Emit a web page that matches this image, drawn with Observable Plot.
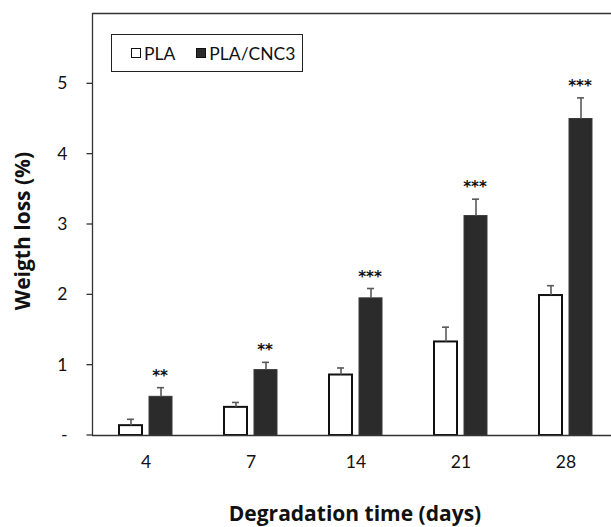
<!DOCTYPE html>
<html><head><meta charset="utf-8">
<script src="https://cdn.jsdelivr.net/npm/d3@7"></script>
<script src="https://cdn.jsdelivr.net/npm/@observablehq/plot@0.6"></script>
<style>
html,body{margin:0;background:#fff;overflow:hidden;}
#wrap{position:relative;width:611px;height:527px;font-family:Lato,"Open Sans",sans-serif;overflow:hidden;color:#111;}
#legend{position:absolute;left:111px;top:34px;width:190px;height:36px;border:1.5px solid #222;box-sizing:content-box;display:flex;align-items:center;font-size:17.5px;}
.item{display:flex;align-items:center;}
.sw{width:8px;height:8px;border:1px solid #111;margin-right:3px;}
</style></head><body><div id="wrap"></div>
<script>
const days = ["4", "7", "14", "21", "28"];
const series = ["PLA", "PLA/CNC3"];
const plaMean = [0.14, 0.40, 0.86, 1.33, 1.99];
const plaErr  = [0.09, 0.07, 0.10, 0.21, 0.14];
const cncMean = [0.55, 0.93, 1.95, 3.12, 4.50];
const cncErr  = [0.13, 0.11, 0.14, 0.24, 0.30];
const signif  = ["**", "**", "***", "***", "***"];
const yTicks = [0, 1, 2, 3, 4, 5];
const yTickLabels = ["-", "1", "2", "3", "4", "5"];
const xTitle = "Degradation time (days)";
const yTitle = "Weigth loss (%)";
const colors = {"PLA": "#ffffff", "PLA/CNC3": "#2b2b2b"};

const pla = days.map((d, i) => ({day: d, mean: plaMean[i], top: plaMean[i] + plaErr[i]}));
const cnc = days.map((d, i) => ({day: d, mean: cncMean[i], top: cncMean[i] + cncErr[i], sig: signif[i]}));

// grouped-bar layout within each day band (style offsets, pixels)
const barOuter = 26, barInner = 56, shift = 15, capIn = 34, capOut = 64;
const tickLen = 6;

const plot = Plot.plot({
  width: 611, height: 527,
  marginTop: 13, marginBottom: 92, marginLeft: 92, marginRight: 0,
  style: {fontFamily: "Lato, 'Open Sans', sans-serif", fontSize: "17px", color: "#111", background: "#fff"},
  x: {domain: days, range: [92.5, 618], padding: 0, label: null},
  y: {domain: [0, 6], label: null},
  marks: [
    Plot.ruleY([6], {stroke: "#333", strokeWidth: 1.3}),
    Plot.barY(pla, {x: "day", y: "mean", fill: colors[series[0]], stroke: "#111", strokeWidth: 2, insetLeft: barOuter, insetRight: barInner}),
    Plot.barY(cnc, {x: "day", y: "mean", fill: colors[series[1]], stroke: "#3a3a3a", strokeWidth: 1, insetLeft: barInner, insetRight: barOuter}),
    Plot.ruleX(pla, {x: "day", y1: "mean", y2: "top", dx: -shift, stroke: "#5a5a5a", strokeWidth: 1.6}),
    Plot.ruleX(cnc, {x: "day", y1: "mean", y2: "top", dx: shift, stroke: "#5a5a5a", strokeWidth: 1.6}),
    Plot.tickY(pla, {x: "day", y: "top", stroke: "#5a5a5a", strokeWidth: 1.6, insetLeft: capIn, insetRight: capOut}),
    Plot.tickY(cnc, {x: "day", y: "top", stroke: "#5a5a5a", strokeWidth: 1.6, insetLeft: capOut, insetRight: capIn}),
    Plot.text(cnc, {x: "day", y: "top", text: "sig", dx: shift - 1, dy: -7, lineAnchor: "bottom", fontWeight: "bold", fontSize: 15, fontFamily: "DejaVu Sans", fill: "#111"}),
    Plot.ruleY([0], {stroke: "#333", strokeWidth: 1.3}),
    Plot.axisY({ticks: yTicks, tickFormat: d => yTickLabels[yTicks.indexOf(d)], tickSize: 0, tickPadding: 19 + tickLen, fontSize: 17.5, fill: "#111", label: null}),
    Plot.axisX({tickSize: 0, tickPadding: 20, fontSize: 17.5, fill: "#111", label: null})
  ]
});

const wrap = document.getElementById("wrap");
wrap.appendChild(plot);

const svg = d3.select(plot);
const ySc = plot.scale("y");
const xSc = plot.scale("x");
const x0 = xSc.range[0];
// left frame line and y tick marks, placed via the plot's own scales
svg.append("line")
  .attr("x1", x0).attr("x2", x0)
  .attr("y1", ySc.apply(0)).attr("y2", ySc.apply(6))
  .attr("stroke", "#333").attr("stroke-width", 1.3);
svg.append("g").selectAll("line").data(yTicks).join("line")
  .attr("x1", x0 - tickLen).attr("x2", x0)
  .attr("y1", d => ySc.apply(d)).attr("y2", d => ySc.apply(d))
  .attr("stroke", "#333").attr("stroke-width", 1.3);

svg.append("text").attr("x", 355).attr("y", 521).attr("text-anchor", "middle")
  .attr("font-family", "'Open Sans', Lato, sans-serif")
  .attr("font-weight", "bold").attr("font-size", 21).attr("fill", "#111").text(xTitle);
svg.append("text").attr("transform", "translate(30,231) rotate(-90)").attr("text-anchor", "middle")
  .attr("font-family", "'Open Sans', Lato, sans-serif")
  .attr("font-weight", "bold").attr("font-size", 21).attr("fill", "#111").text(yTitle);

const legend = document.createElement("div");
legend.id = "legend";
series.forEach((s, i) => {
  const it = document.createElement("div");
  it.className = "item";
  it.style.marginLeft = i === 0 ? "19px" : "21px";
  const sw = document.createElement("div");
  sw.className = "sw";
  sw.style.background = colors[s];
  const t = document.createElement("span");
  t.textContent = s;
  it.appendChild(sw); it.appendChild(t);
  legend.appendChild(it);
});
wrap.appendChild(legend);
</script></body></html>
